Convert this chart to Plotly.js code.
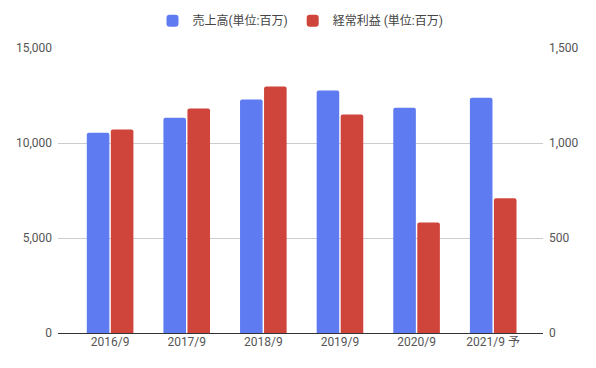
<!DOCTYPE html>
<html><head><meta charset="utf-8">
<script src="https://cdn.plot.ly/plotly-3.0.1.min.js"></script>
<style>html,body{margin:0;padding:0;background:#fff}#c{width:596px;height:368px}</style>
</head><body><div id="c"></div>
<script>
const categories = ["2016/9","2017/9","2018/9","2019/9","2020/9","2021/9 予"];
const sales = [10540, 11330, 12290, 12760, 11850, 12380];
const ordinaryProfit = [1071, 1181, 1297, 1150, 582, 709];
const salesName = "売上高(単位:百万)";
const profitName = "経常利益 (単位:百万)";
const leftTicks = [0, 5000, 10000, 15000];
const rightTicks = [0, 500, 1000, 1500];

const font = "Roboto, 'Noto Sans CJK JP', sans-serif";
const traces = [
  {type:"bar", x:categories, y:sales, name:salesName, yaxis:"y",
   marker:{color:"#5f7bf2", cornerradius:2}, offsetgroup:"a", hoverinfo:"none"},
  {type:"bar", x:categories, y:ordinaryProfit, name:profitName, yaxis:"y2",
   marker:{color:"#cf443b", cornerradius:2}, offsetgroup:"b", hoverinfo:"none"}
];
const layout = {
  width:596, height:368,
  margin:{l:58, r:53, t:48, b:35},
  paper_bgcolor:"#fff", plot_bgcolor:"#fff",
  font:{family:font, size:12, color:"#555"},
  barmode:"group", bargap:0.373, bargroupgap:0.06,
  showlegend:true,
  legend:{orientation:"h", x:0.5, xanchor:"center", yref:"container", y:0.983, yanchor:"top",
          font:{family:font, size:12, color:"#444"}, itemwidth:30},
  xaxis:{type:"category", range:[-0.68, 5.65], showgrid:false, zeroline:false, automargin:false,
         showline:false, ticks:"", tickfont:{size:12, color:"#555"}},
  yaxis:{range:[0,15000], tickvals:leftTicks, tickformat:",", gridcolor:"#cccccc", automargin:false,
         zeroline:true, zerolinecolor:"#333", zerolinewidth:1, showline:false,
         ticks:"", ticklabelstandoff:5, tickfont:{size:12, color:"#555"}},
  yaxis2:{range:[0,1500], tickvals:rightTicks, tickformat:",", overlaying:"y", side:"right", automargin:false,
          showgrid:false, zeroline:false, showline:false, ticks:"", ticklabelstandoff:5,
          tickfont:{size:12, color:"#555"}}
};
Plotly.newPlot("c", traces, layout, {displayModeBar:false, staticPlot:true});
</script></body></html>
